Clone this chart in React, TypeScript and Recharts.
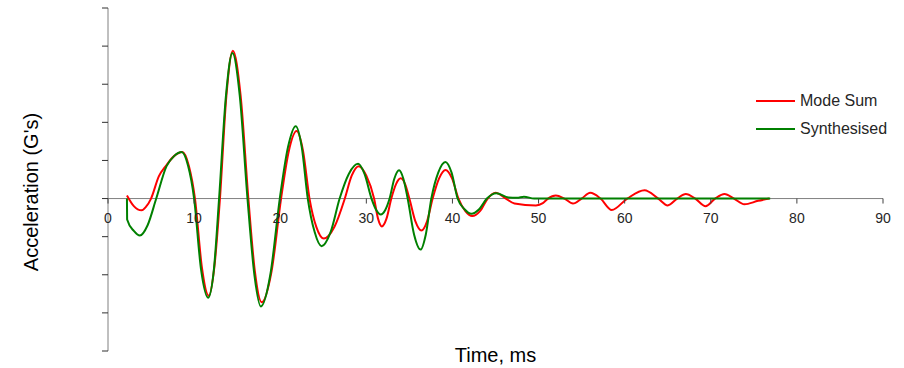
import React from 'react';
import { LineChart, Line, XAxis, YAxis, ReferenceLine, Legend } from 'recharts';

// time (ms) and acceleration (G's)
const timeTicks = [0, 10, 20, 30, 40, 50, 60, 70, 80, 90];
const accelTicks = [-4, -3, -2, -1, 0, 1, 2, 3, 4, 5];

const modeSumTime = [
  2.2, 3.0, 3.9, 4.4, 5.0, 5.9, 6.8, 7.7, 8.65, 9.4, 10.1, 10.9, 11.7, 12.35, 13.0, 13.75,
  14.5, 15.4, 16.3, 17.05, 17.85, 19.0, 20.1, 21.0, 21.9, 22.65, 23.4, 24.2, 25.06, 26.3,
  27.5, 28.3, 29.1, 30.0, 30.9, 31.35, 31.8, 32.35, 32.9, 33.45, 34.0, 34.5, 35.0, 35.7,
  36.4, 37.05, 37.7, 38.45, 39.2, 39.95, 40.7, 41.5, 42.3, 43.2, 44.1, 45.0, 46.2,
  47.2, 49.7, 50.5, 51.1, 52.0, 53.0, 54.0, 55.0, 56.0, 57.2, 58.5, 60.3, 62.3, 63.9, 65.0,
  66.1, 67.1, 68.2, 69.4, 70.5, 71.6, 72.7, 73.9, 75.5, 76.8,
];
const modeSumAccel = [
  0.08, -0.2, -0.31, -0.22, 0, 0.58, 0.88, 1.12, 1.22, 0.85, 0, -1.8, -2.55, -1.8, 0, 2.7,
  3.88, 2.7, 0, -1.9, -2.72, -1.9, 0, 1.25, 1.77, 1.25, 0, -0.75, -1.05, -0.74,
  0, 0.6, 0.85, 0.6, 0, -0.52, -0.73, -0.52, 0, 0.38, 0.53, 0.38, 0, -0.6,
  -0.84, -0.6, 0, 0.53, 0.75, 0.53, 0, -0.33, -0.46, -0.33, 0, 0.15, 0,
  -0.13, -0.18, -0.12, 0, 0.08, 0, -0.13, 0, 0.15, 0, -0.3, 0, 0.22, 0, -0.18,
  0, 0.12, 0, -0.2, 0, 0.12, 0, -0.15, -0.06, 0,
];

const synthTime = [
  2.2, 2.22, 3.0, 3.71, 4.6, 5.6, 6.8, 7.7, 8.55, 9.3, 10.0, 10.8, 11.64, 12.3, 12.9, 13.7,
  14.45, 15.3, 16.2, 17.0, 17.75, 18.85, 19.95, 20.9, 21.8, 22.5, 23.2, 24.0, 24.8, 25.85,
  26.9, 27.95, 29.04, 29.8, 30.6, 31.15, 31.67, 32.2, 32.7, 33.25, 33.8, 34.3, 34.8, 35.55,
  36.3, 36.9, 37.55, 38.35, 39.17, 39.9, 40.6, 41.4, 42.2, 43.1, 44.0, 45.1, 46.5, 47.5,
  48.3, 49.5, 76.9,
];
const synthAccel = [
  0, -0.55, -0.85, -0.97, -0.7, 0, 0.85, 1.12, 1.22, 0.86, 0, -1.85, -2.6, -1.85, 0, 2.7,
  3.82, 2.7, 0, -2.0, -2.83, -2.0, 0, 1.35, 1.9, 1.35, 0, -0.88, -1.25, -0.88,
  0, 0.64, 0.91, 0.64, 0, -0.3, -0.42, -0.3, 0, 0.52, 0.74, 0.52, 0, -0.95,
  -1.34, -0.95, 0, 0.68, 0.96, 0.68, 0, -0.28, -0.4, -0.28, 0, 0.14, 0.03, 0.02,
  0.05, 0, 0,
];

const modeSum = modeSumTime.map((t, i) => ({ t, a: modeSumAccel[i] }));
const synth = synthTime.map((t, i) => ({ t, a: synthAccel[i] }));

const W = 904;
const H = 368;
const margin = { top: 8, right: 21, bottom: 16, left: 107 };
const yMin = -4;
const yMax = 5;
const plotTop = margin.top;
const plotH = H - margin.top - margin.bottom - 1;
const zeroY = plotTop + (plotH * yMax) / (yMax - yMin);
const font = '"Liberation Sans", Arial, sans-serif';

const TimeTick = (props: any) => {
  const { x, payload } = props;
  return (
    <g>
      <line x1={x} x2={x} y1={zeroY} y2={zeroY + 5} stroke="#404040" />
      <text x={x} y={zeroY + 24} textAnchor="middle" fontSize={14} fill="#262626" fontFamily={font}>
        {payload.value}
      </text>
    </g>
  );
};

const LegendBox = (props: any) => {
  const { payload } = props;
  return (
    <div style={{ fontFamily: font }}>
      {(payload || []).map((e: any) => (
        <div key={e.value} style={{ display: 'flex', alignItems: 'center', height: 28 }}>
          <svg width={39} height={4}>
            <line x1={0} x2={39} y1={2} y2={2} stroke={e.color} strokeWidth={2} />
          </svg>
          <span style={{ marginLeft: 5, fontSize: 16, color: '#262626' }}>{e.value}</span>
        </div>
      ))}
    </div>
  );
};

export default function App() {
  return (
    <div style={{ position: 'absolute', left: 0, top: 0, width: W, height: H, background: '#fff' }}>
      <LineChart width={W} height={H} margin={margin}>
        <XAxis
          type="number"
          dataKey="t"
          domain={[0, 90]}
          ticks={timeTicks}
          height={1}
          axisLine={false}
          tickLine={false}
          tick={TimeTick}
          allowDataOverflow
        />
        <YAxis
          type="number"
          domain={[yMin, yMax]}
          ticks={accelTicks}
          width={1}
          tickSize={6}
          tickFormatter={() => ''}
          axisLine={{ stroke: '#808080' }}
          tickLine={{ stroke: '#303030' }}
          allowDataOverflow
        />
        <ReferenceLine y={0} stroke="#808080" />
        <Legend
          layout="horizontal"
          verticalAlign="middle"
          align="center"
          content={LegendBox}
          wrapperStyle={{ left: 756, top: 87, width: 148 }}
        />
        <Line
          data={modeSum}
          dataKey="a"
          name="Mode Sum"
          type="monotone"
          stroke="#ff0000"
          strokeWidth={2}
          dot={false}
          isAnimationActive={false}
        />
        <Line
          data={synth}
          dataKey="a"
          name="Synthesised"
          type="monotone"
          stroke="#008000"
          strokeWidth={2}
          dot={false}
          isAnimationActive={false}
        />
      </LineChart>
      <svg width={W} height={H} style={{ position: 'absolute', left: 0, top: 0, pointerEvents: 'none' }}>
        <text x={495.5} y={362} textAnchor="middle" fontSize={20} fill="#000" fontFamily={font}>
          Time, ms
        </text>
        <text
          transform="translate(38, 192) rotate(-90)"
          textAnchor="middle"
          fontSize={20}
          fill="#000"
          fontFamily={font}
        >
          Acceleration (G's)
        </text>
      </svg>
    </div>
  );
}
